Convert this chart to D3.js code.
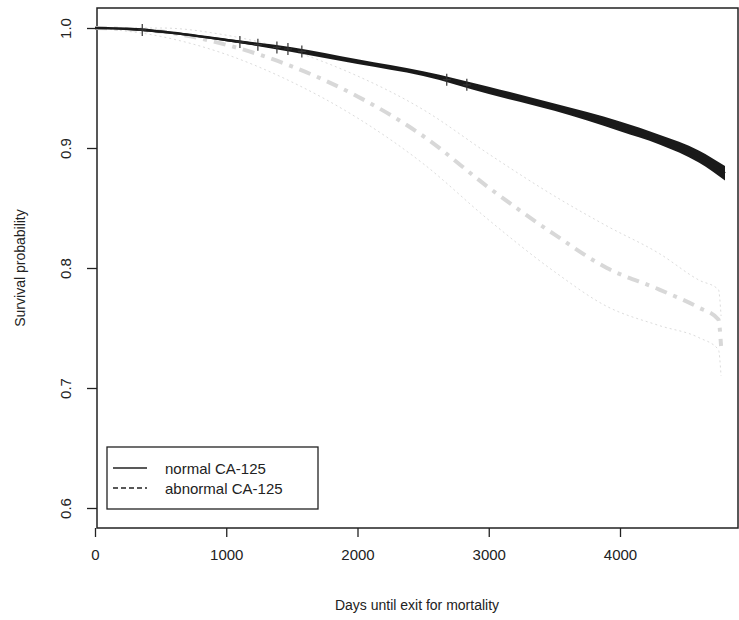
<!DOCTYPE html>
<meta charset="utf-8">
<style>
body {
  margin: 0;
  background: #fff;
}
text {
  font-family: "Liberation Sans", Arial, sans-serif;
  fill: #222;
}
.axis path, .axis line {
  stroke: #222;
  stroke-width: 1.3;
}
</style>
<body>
<script src="https://cdn.jsdelivr.net/npm/d3@7/dist/d3.min.js"></script>
<script>

var width = 739,
    height = 620;

// normal CA-125 curve (days, survival, CI)
var normalDays  = [0, 300, 500, 1000, 1500, 2000, 2500, 3000, 3500, 4000, 4300, 4600, 4800];
var normalSurv  = [1.0, 0.999, 0.997, 0.99, 0.982, 0.972, 0.962, 0.948, 0.934, 0.918, 0.907, 0.893, 0.879];
var normalUpper = [1.0, 1.0, 0.998, 0.991, 0.984, 0.974, 0.964, 0.951, 0.937, 0.922, 0.911, 0.898, 0.885];
var normalLower = [1.0, 0.998, 0.996, 0.989, 0.980, 0.970, 0.960, 0.945, 0.931, 0.914, 0.903, 0.888, 0.873];

// abnormal CA-125 curve (days, survival, CI)
var abnDays  = [0, 500, 1000, 1500, 2000, 2500, 3000, 3500, 3900, 4300, 4600, 4750, 4770];
var abnSurv  = [1.0, 0.997, 0.986, 0.968, 0.943, 0.91, 0.867, 0.828, 0.80, 0.782, 0.767, 0.757, 0.735];
var abnUpper = [1.0, 1.0, 0.994, 0.981, 0.96, 0.932, 0.895, 0.86, 0.835, 0.812, 0.79, 0.782, 0.76];
var abnLower = [1.0, 0.993, 0.978, 0.955, 0.925, 0.887, 0.84, 0.797, 0.768, 0.752, 0.742, 0.732, 0.71];

// censoring marks on the normal curve
var censorDays = [360, 1104, 1241, 1386, 1470, 1576, 2680, 2833];

var xTicks = [0, 1000, 2000, 3000, 4000];
var yTicks = [0.6, 0.7, 0.8, 0.9, 1.0];

var x = d3.scaleLinear().domain([0, 4000]).range([95, 620]);
var y = d3.scaleLinear().domain([0.6, 1.0]).range([508, 28]);

var svg = d3.select("body").append("svg")
    .attr("width", width)
    .attr("height", height);

// frame
svg.append("rect")
    .attr("x", 97).attr("y", 8)
    .attr("width", 641).attr("height", 520)
    .attr("fill", "none")
    .attr("stroke", "#222")
    .attr("stroke-width", 1.5);

var line = d3.line()
    .x(function(d) { return x(d[0]); })
    .y(function(d) { return y(d[1]); })
    .curve(d3.curveMonotoneX);

function zip(a, b) { return a.map(function(v, i) { return [v, b[i]]; }); }

// abnormal confidence limits
[abnUpper, abnLower].forEach(function(s) {
  svg.append("path")
      .attr("d", line(zip(abnDays, s)))
      .attr("fill", "none")
      .attr("stroke", "#dcdcdc")
      .attr("stroke-width", 1)
      .attr("stroke-dasharray", "2,3");
});

// abnormal estimate
svg.append("path")
    .attr("d", line(zip(abnDays, abnSurv)))
    .attr("fill", "none")
    .attr("stroke", "#d8d8d8")
    .attr("stroke-width", 4)
    .attr("stroke-dasharray", "12,7,4,7");

// normal band + estimate
var area = d3.area()
    .x(function(d, i) { return x(normalDays[i]); })
    .y0(function(d, i) { return y(normalLower[i]); })
    .y1(function(d, i) { return y(normalUpper[i]); })
    .curve(d3.curveMonotoneX);

svg.append("path")
    .datum(normalDays)
    .attr("d", area)
    .attr("fill", "#1a1a1a");

svg.append("path")
    .attr("d", line(zip(normalDays, normalSurv)))
    .attr("fill", "none")
    .attr("stroke", "#1a1a1a")
    .attr("stroke-width", 2.5);

// censor ticks
var survAt = d3.scaleLinear().domain(normalDays).range(normalSurv);
svg.selectAll(".censor")
    .data(censorDays)
  .enter().append("path")
    .attr("class", "censor")
    .attr("d", function(d) {
      var cx = x(d), cy = y(survAt(d));
      return "M" + (cx - 4) + "," + cy + "H" + (cx + 4) + "M" + cx + "," + (cy - 6) + "V" + (cy + 6);
    })
    .attr("stroke", "#333")
    .attr("stroke-width", 1.2);

// axes
var xAxis = svg.append("g")
    .attr("class", "axis")
    .attr("transform", "translate(0,528)")
    .call(d3.axisBottom(x).tickValues(xTicks).tickFormat(d3.format("d")).tickSize(9).tickPadding(12).tickSizeOuter(0));
xAxis.select(".domain").remove();
xAxis.selectAll("text").style("font-size", "15px");

var yAxis = svg.append("g")
    .attr("class", "axis")
    .attr("transform", "translate(97,0)")
    .call(d3.axisLeft(y).tickValues(yTicks).tickFormat(d3.format(".1f")).tickSize(10).tickSizeOuter(0));
yAxis.select(".domain").remove();
yAxis.selectAll("text")
    .style("font-size", "15px")
    .attr("text-anchor", "middle")
    .attr("x", 0).attr("dy", 0)
    .attr("transform", function(d) { return "translate(-31,0) rotate(-90)"; })
    .attr("y", 5);

// axis titles
svg.append("text")
    .attr("x", 417).attr("y", 610)
    .attr("text-anchor", "middle")
    .style("font-size", "14px")
    .text("Days until exit for mortality");

svg.append("text")
    .attr("transform", "translate(25,268) rotate(-90)")
    .attr("text-anchor", "middle")
    .style("font-size", "14px")
    .text("Survival probability");

// legend
var legend = svg.append("g");
legend.append("rect")
    .attr("x", 107).attr("y", 447)
    .attr("width", 211).attr("height", 62)
    .attr("fill", "#fff")
    .attr("stroke", "#222")
    .attr("stroke-width", 1.3);

var legendItems = [
  {label: "normal CA-125", dash: null},
  {label: "abnormal CA-125", dash: "5,3"}
];

legend.selectAll(".item")
    .data(legendItems)
  .enter().append("g")
    .attr("transform", function(d, i) { return "translate(0," + (468 + i * 20) + ")"; })
    .each(function(d) {
      var g = d3.select(this);
      g.append("line")
          .attr("x1", 113).attr("x2", 147)
          .attr("stroke", "#222")
          .attr("stroke-width", 1.3)
          .attr("stroke-dasharray", d.dash);
      g.append("text")
          .attr("x", 165).attr("y", 6)
          .style("font-size", "15px")
          .text(d.label);
    });

</script>
</body>
